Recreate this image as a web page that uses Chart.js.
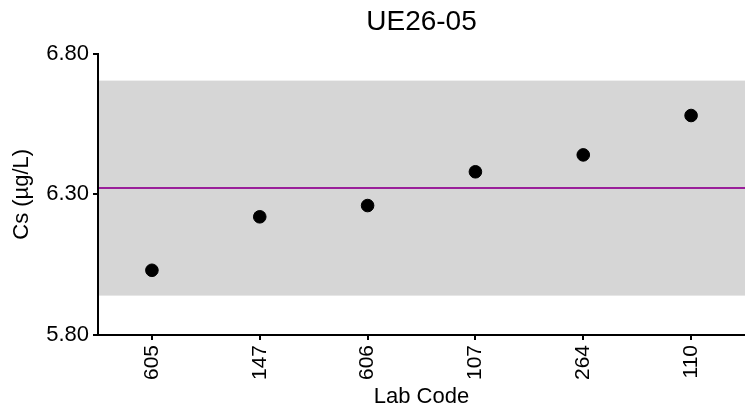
<!DOCTYPE html>
<html>
<head>
<meta charset="utf-8">
<script src="https://cdn.jsdelivr.net/npm/chart.js@4.4.1/dist/chart.umd.min.js"></script>
<style>
  html, body { margin: 0; padding: 0; background: #fff; }
  #wrap { width: 745px; height: 410px; }
</style>
</head>
<body>
<div id="wrap"><canvas id="chart" width="745" height="410"></canvas></div>
<script>
// Data
const labCodes = ['605', '147', '606', '107', '264', '110'];
const csValues = [6.03, 6.22, 6.26, 6.38, 6.44, 6.58];
const assignedValue = 6.322;
const bandLow = 5.94;
const bandHigh = 6.704;
const yTicks = [5.80, 6.30, 6.80];

const FONT = "'Liberation Sans', Arial, Helvetica, sans-serif";

// Gray acceptance band + purple assigned-value line, drawn behind axes and points
const bandPlugin = {
    id: 'band',
    beforeDraw(chart) {
        const { ctx, chartArea, scales } = chart;
        const y = scales.y;
        const top = y.getPixelForValue(bandHigh);
        const bottom = y.getPixelForValue(bandLow);
        ctx.save();
        ctx.fillStyle = '#d6d6d6';
        ctx.fillRect(chartArea.left, top, chartArea.right - chartArea.left, bottom - top);
        const yl = y.getPixelForValue(assignedValue);
        ctx.strokeStyle = '#9a1f9a';
        ctx.lineWidth = 2;
        ctx.beginPath();
        ctx.moveTo(chartArea.left, yl);
        ctx.lineTo(chartArea.right, yl);
        ctx.stroke();
        ctx.restore();
    }
};

new Chart(document.getElementById('chart'), {
    type: 'line',
    data: {
        labels: labCodes,
        datasets: [{
            data: csValues,
            showLine: false,
            pointRadius: 6.3,
            pointHoverRadius: 6.3,
            pointBackgroundColor: '#000',
            pointBorderColor: '#000',
            borderColor: '#000'
        }]
    },
    options: {
        responsive: false,
        animation: false,
        devicePixelRatio: 1,
        // plot runs slightly past the right edge in the reference
        layout: { padding: { left: 0, top: 0, bottom: 0, right: -4 }, autoPadding: false },
        plugins: {
            legend: { display: false },
            tooltip: { enabled: false },
            title: {
                display: true,
                fullSize: false, // center over the plot area, not the canvas
                text: 'UE26-05',
                color: '#000',
                font: { family: FONT, size: 28, weight: 'normal' },
                padding: { top: 5, bottom: 15 }
            }
        },
        scales: {
            x: {
                type: 'category',
                offset: true,
                afterFit: (s) => {
                    s.height = 75;
                    s.paddingLeft = 0;
                    s.paddingRight = 0;
                },
                grid: {
                    display: true,
                    offset: false,
                    drawOnChartArea: false,
                    drawTicks: true,
                    tickLength: 5,
                    color: '#000',
                    lineWidth: 2
                },
                border: { display: true, color: '#000', width: 2 },
                ticks: {
                    color: '#000',
                    font: { family: FONT, size: 21 },
                    minRotation: 90,
                    maxRotation: 90,
                    padding: 5
                },
                title: {
                    display: true,
                    text: 'Lab Code',
                    color: '#000',
                    font: { family: FONT, size: 22 },
                    padding: { top: 0, bottom: 0 }
                }
            },
            y: {
                min: 5.8,
                max: 6.8,
                afterFit: (s) => { s.width = 98; },
                afterBuildTicks: (s) => { s.ticks = yTicks.map(v => ({ value: v })); },
                grid: {
                    display: true,
                    drawOnChartArea: false,
                    drawTicks: true,
                    tickLength: 5,
                    color: '#000',
                    lineWidth: 2
                },
                border: { display: true, color: '#000', width: 2 },
                ticks: {
                    color: '#000',
                    font: { family: FONT, size: 22 },
                    padding: 4,
                    callback: (v) => Number(v).toFixed(2)
                },
                title: {
                    display: true,
                    text: 'Cs (µg/L)',
                    color: '#000',
                    font: { family: FONT, size: 22 },
                    padding: { top: 9, bottom: 0 }
                }
            }
        }
    },
    plugins: [bandPlugin]
});
</script>
</body>
</html>
